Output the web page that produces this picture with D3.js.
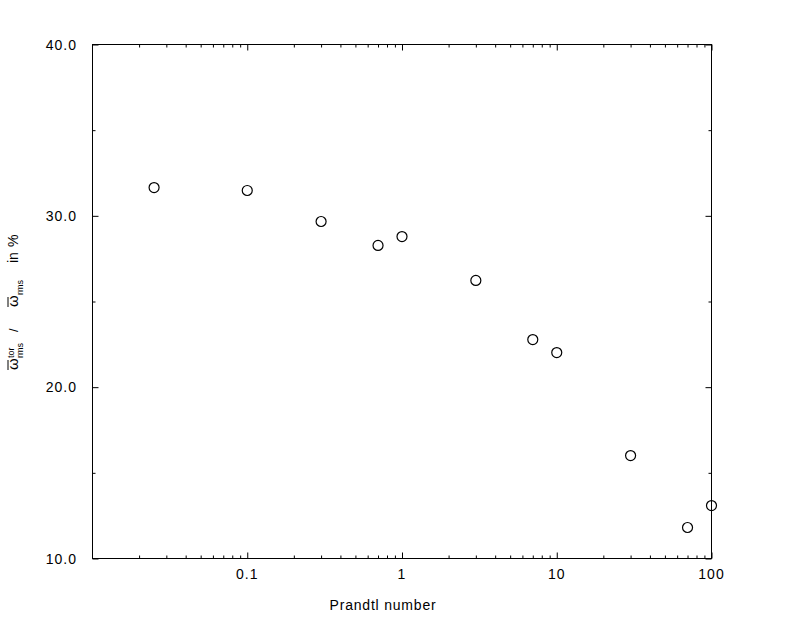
<!DOCTYPE html>
<html><head><meta charset="utf-8">
<script src="https://cdn.jsdelivr.net/npm/d3@7"></script>
<style>
body{margin:0;background:#fff;}
svg{display:block;}
text{font-family:"Liberation Sans",Arial,Helvetica,sans-serif;fill:#000;}
</style></head>
<body><svg id="c" width="812" height="644"></svg>
<script>
const prandtl = [0.025, 0.1, 0.3, 0.7, 1, 3, 7, 10, 30, 70, 100];
const ratio = [31.65, 31.48, 29.67, 28.27, 28.79, 26.23, 22.78, 22.02, 16.01, 11.81, 13.09];
const xMajor = [0.1, 1, 10, 100];
const xMajorLabels = ["0.1", "1", "10", "100"];
const xMinor = [0.02,0.03,0.04,0.05,0.06,0.07,0.08,0.09,0.2,0.3,0.4,0.5,0.6,0.7,0.8,0.9,2,3,4,5,6,7,8,9,20,30,40,50,60,70,80,90];
const yMajor = [10, 20, 30, 40];
const yMajorLabels = ["10.0", "20.0", "30.0", "40.0"];
const yMinor = [15, 25, 35];

const svg = d3.select("#c");
const L = 92.5, R = 711.5, T = 44.5, B = 558.5;
const x = d3.scaleLog().domain([0.01, 100]).range([L, R]);
const y = d3.scaleLinear().domain([10, 40]).range([B, T]);

function ax(gen, tx, ty) {
  const g = svg.append("g").attr("transform", `translate(${tx},${ty})`).call(gen);
  g.select(".domain").remove();
  g.selectAll("line").attr("stroke", "#000").attr("stroke-width", 1);
  return g;
}
// ticks (inward)
ax(d3.axisBottom(x).tickValues(xMajor).tickSize(-6).tickFormat(""), 0, B);
ax(d3.axisBottom(x).tickValues(xMinor).tickSize(-3).tickFormat(""), 0, B);
ax(d3.axisTop(x).tickValues(xMajor).tickSize(-6).tickFormat(""), 0, T);
ax(d3.axisTop(x).tickValues(xMinor).tickSize(-3).tickFormat(""), 0, T);
ax(d3.axisLeft(y).tickValues(yMajor).tickSize(-6).tickFormat(""), L, 0);
ax(d3.axisLeft(y).tickValues(yMinor).tickSize(-3).tickFormat(""), L, 0);
ax(d3.axisRight(y).tickValues(yMajor).tickSize(-6).tickFormat(""), R, 0);
ax(d3.axisRight(y).tickValues(yMinor).tickSize(-3).tickFormat(""), R, 0);

// frame
svg.append("rect").attr("x", L).attr("y", T).attr("width", R - L).attr("height", B - T)
  .attr("fill", "none").attr("stroke", "#000").attr("stroke-width", 1);

// tick labels
svg.selectAll(".xl").data(xMajor).enter().append("text")
  .attr("x", d => x(d)).attr("y", 579).attr("text-anchor", "middle")
  .style("font-size", "14px").style("letter-spacing", "1px")
  .text((d, i) => xMajorLabels[i]);
svg.selectAll(".yl").data(yMajor).enter().append("text")
  .attr("x", 77).attr("y", d => y(d) + 5).attr("text-anchor", "end")
  .style("font-size", "14px").style("letter-spacing", "1px")
  .text((d, i) => yMajorLabels[i]);

// x title
svg.append("text").attr("x", 383).attr("y", 610).attr("text-anchor", "middle")
  .style("font-size", "14px").style("letter-spacing", "0.8px").text("Prandtl number");

// y title
const yt = svg.append("g").attr("transform", "translate(18,302) rotate(-90)");
function piece(u, v, s, fs) {
  yt.append("text").attr("x", u).attr("y", v).style("font-size", fs + "px").text(s);
}
piece(-68, 0, "ω", 15);
yt.append("line").attr("x1", -68).attr("x2", -58).attr("y1", -10).attr("y2", -10).attr("stroke", "#000");
piece(-56, -4, "tor", 9);
piece(-56, 5, "rms", 9);
piece(-30, 0, "/", 13);
piece(-5, 0, "ω", 15);
yt.append("line").attr("x1", -5).attr("x2", 5).attr("y1", -10).attr("y2", -10).attr("stroke", "#000");
piece(7, 5, "rms", 9);
piece(39, 0, "in", 14);
piece(55, 0, "%", 14);

// points
svg.selectAll(".pt").data(prandtl).enter().append("circle")
  .attr("cx", d => x(d)).attr("cy", (d, i) => y(ratio[i])).attr("r", 5)
  .attr("fill", "none").attr("stroke", "#000").attr("stroke-width", 1.2);
</script></body></html>
